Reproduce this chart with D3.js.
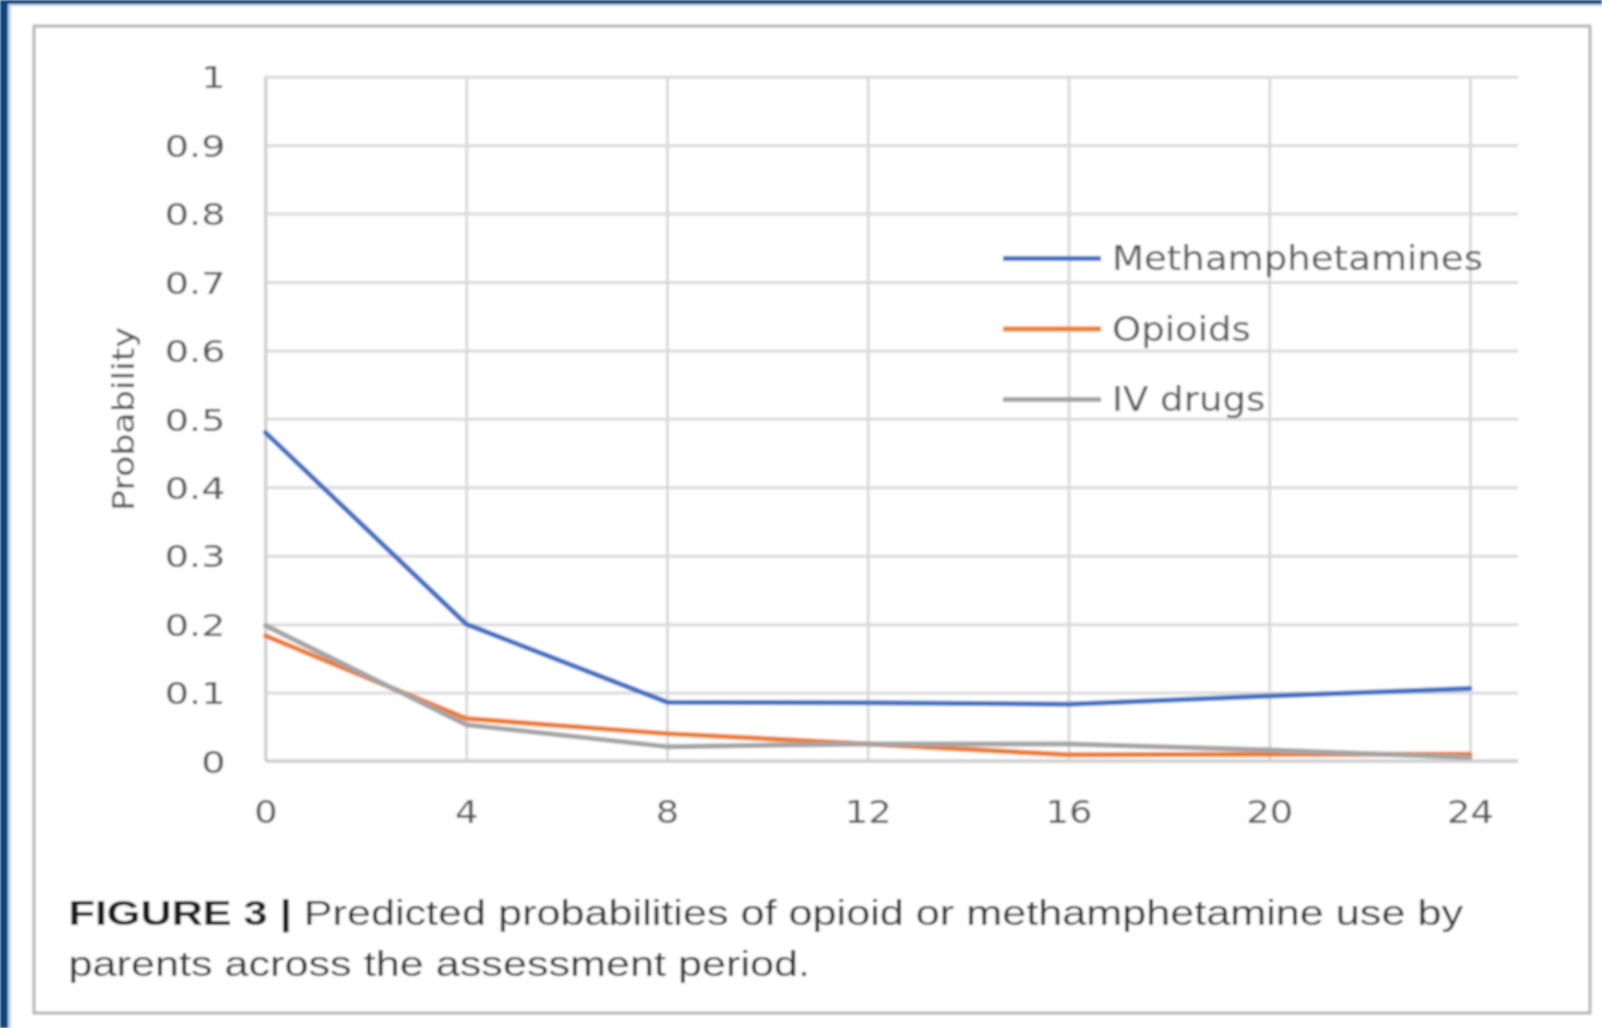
<!DOCTYPE html>
<html>
<head>
<meta charset="utf-8">
<script src="https://cdn.jsdelivr.net/npm/d3@7"></script>
<style>
  html, body { margin: 0; padding: 0; background: #ffffff; }
  svg { display: block; }
</style>
</head>
<body>
<script>
// Assessment time points and predicted probabilities per substance
const timePoints = [0, 4, 8, 12, 16, 20, 24];
const methamphetamines = [0.48, 0.20, 0.086, 0.085, 0.083, 0.095, 0.106];
const opioids = [0.183, 0.062, 0.040, 0.025, 0.009, 0.010, 0.010];
const ivDrugs = [0.198, 0.053, 0.021, 0.025, 0.025, 0.016, 0.005];

const seriesNames = ["Methamphetamines", "Opioids", "IV drugs"];
const seriesColors = ["#4472C4", "#ED7D31", "#A5A5A5"];

const yTickValues = [0, 0.1, 0.2, 0.3, 0.4, 0.5, 0.6, 0.7, 0.8, 0.9, 1];
const yTickLabels = ["0", "0.1", "0.2", "0.3", "0.4", "0.5", "0.6", "0.7", "0.8", "0.9", "1"];
const yAxisTitle = "Probability";
const captionBold = "FIGURE 3 | ";
const captionLine1 = "Predicted probabilities of opioid or methamphetamine use by";
const captionLine2 = "parents across the assessment period.";

const W = 1602, H = 1028;
const svg = d3.select("body").append("svg")
  .attr("width", W).attr("height", H);

const defs = svg.append("defs");
defs.append("filter").attr("id", "soft")
  .attr("x", "-5%").attr("y", "-5%").attr("width", "110%").attr("height", "110%")
  .append("feGaussianBlur").attr("stdDeviation", 0.8);

const root = svg.append("g").attr("filter", "url(#soft)");

// widen glyphs of a text node by a factor, keeping its anchor
function widen(sel, factor) {
  sel.each(function () {
    const n = this.getComputedTextLength();
    d3.select(this).attr("textLength", n * factor).attr("lengthAdjust", "spacingAndGlyphs");
  });
}

// page frame: dark blue edge, white page, grey figure box
root.append("rect").attr("x", 0).attr("y", 0).attr("width", W).attr("height", H).attr("fill", "#0b4680");
root.append("rect").attr("x", 8).attr("y", 4).attr("width", W - 8).attr("height", H - 4).attr("fill", "#bcd3ea");
root.append("rect").attr("x", 11).attr("y", 6).attr("width", W - 11).attr("height", H - 6).attr("fill", "#ffffff");
root.append("rect").attr("x", 34).attr("y", 26).attr("width", 1556).attr("height", 987)
  .attr("fill", "#ffffff").attr("stroke", "#b4b4b4").attr("stroke-width", 3);

const plotLeft = 265.5, plotRight = 1518, lastX = 1470;
const x = d3.scaleLinear().domain([0, 24]).range([plotLeft, lastX]);
const y = d3.scaleLinear().domain([0, 1]).range([761, 76.7]);

const chartFont = "'DejaVu Sans', 'Open Sans', sans-serif";
const labelColor = "#585858";

// horizontal gridlines
root.append("g")
  .attr("transform", `translate(${plotLeft},0)`)
  .call(d3.axisLeft(y).tickValues(yTickValues).tickSize(-(plotRight - plotLeft)).tickFormat(""))
  .call(g => g.select(".domain").remove())
  .call(g => g.selectAll(".tick line").attr("stroke", "#dadada").attr("stroke-width", 3));

// vertical gridlines
root.append("g")
  .attr("transform", `translate(0,${y(0)})`)
  .call(d3.axisBottom(x).tickValues(timePoints).tickSize(-(y(0) - y(1))).tickFormat(""))
  .call(g => g.select(".domain").remove())
  .call(g => g.selectAll(".tick line").attr("stroke", "#dadada").attr("stroke-width", 3));

// axis lines
root.append("line").attr("x1", plotLeft).attr("x2", plotRight).attr("y1", y(0)).attr("y2", y(0))
  .attr("stroke", "#cfcfcf").attr("stroke-width", 3.5);
root.append("line").attr("x1", plotLeft).attr("x2", plotLeft).attr("y1", y(0)).attr("y2", y(1))
  .attr("stroke", "#cfcfcf").attr("stroke-width", 3);

// y tick labels
root.append("g")
  .attr("transform", `translate(${plotLeft},0)`)
  .call(d3.axisLeft(y).tickValues(yTickValues).tickSize(0).tickPadding(40)
    .tickFormat((d, i) => yTickLabels[i]))
  .call(g => g.select(".domain").remove())
  .call(g => g.selectAll("text").attr("font-family", chartFont).attr("font-size", 31)
    .attr("fill", labelColor).attr("dy", "0.36em"))
  .call(g => widen(g.selectAll("text"), 1.23));

// x tick labels
root.append("g")
  .attr("transform", `translate(0,${y(0)})`)
  .call(d3.axisBottom(x).tickValues(timePoints).tickSize(0).tickPadding(0).tickFormat(d3.format("d")))
  .call(g => g.select(".domain").remove())
  .call(g => g.selectAll("text").attr("font-family", chartFont).attr("font-size", 32)
    .attr("fill", labelColor).attr("y", 62).attr("dy", 0))
  .call(g => widen(g.selectAll("text"), 1.15));

// y axis title
root.append("text")
  .attr("transform", `translate(134,419) rotate(-90)`)
  .attr("text-anchor", "middle")
  .attr("font-family", chartFont).attr("font-size", 30)
  .attr("fill", "#505050")
  .text(yAxisTitle)
  .call(t => t.attr("textLength", 184).attr("lengthAdjust", "spacingAndGlyphs"));

// series lines
const series = [methamphetamines, opioids, ivDrugs];
const line = d3.line().x((d, i) => x(timePoints[i])).y(d => y(d));
series.forEach((vals, k) => {
  root.append("path")
    .datum(vals)
    .attr("d", line)
    .attr("fill", "none")
    .attr("stroke", seriesColors[k])
    .attr("stroke-width", 5)
    .attr("stroke-linejoin", "round")
    .attr("stroke-linecap", "round");
});

// legend
const legendY = [258.5, 329, 399.5];
const legend = root.append("g");
seriesNames.forEach((name, k) => {
  legend.append("line")
    .attr("x1", 1003).attr("x2", 1101)
    .attr("y1", legendY[k]).attr("y2", legendY[k])
    .attr("stroke", seriesColors[k]).attr("stroke-width", 5);
  legend.append("text")
    .attr("x", 1112).attr("y", legendY[k]).attr("dy", "0.36em")
    .attr("font-family", chartFont).attr("font-size", 33)
    .attr("fill", labelColor)
    .text(name);
});
{
  // fit the legend labels to the width of the longest entry
  const labels = legend.selectAll("text");
  const first = labels.node().getComputedTextLength();
  widen(labels, 371 / first);
}

// caption
const capFont = "'Liberation Sans', Arial, Helvetica, sans-serif";
const capGroup = root.append("g");
const cap1 = capGroup.append("text").attr("x", 0).attr("y", 925)
  .attr("font-family", capFont).attr("font-size", 35).attr("fill", "#333333");
cap1.append("tspan").attr("font-weight", "bold").attr("fill", "#1f1f1f").text(captionBold);
cap1.append("tspan").text(captionLine1);
capGroup.append("text").attr("x", 0).attr("y", 976)
  .attr("font-family", capFont).attr("font-size", 35).attr("fill", "#333333")
  .text(captionLine2);
const capWidth = cap1.node().getComputedTextLength();
capGroup.attr("transform", `translate(68.5,0) scale(${1395 / capWidth},1)`);
</script>
</body>
</html>
